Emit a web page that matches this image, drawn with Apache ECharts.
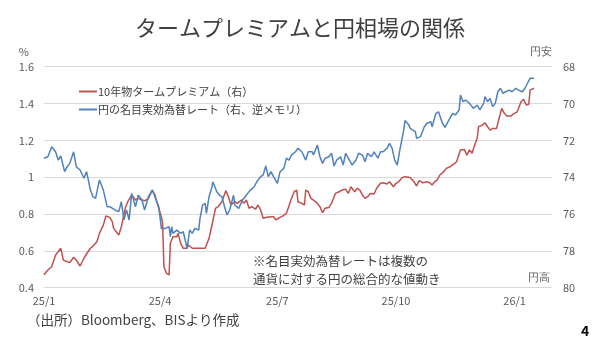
<!DOCTYPE html>
<html>
<head>
<meta charset="utf-8">
<script src="https://cdn.jsdelivr.net/npm/echarts@6/dist/echarts.min.js"></script>
<style>
html,body{margin:0;padding:0;background:#fff;}
#chart{width:600px;height:343px;}
</style>
</head>
<body>
<div id="chart"></div>
<script>
// ---- data ----
const startDate = '2025-01-01';
const endDate = '2026-01-30';
const tickDates = ['2025-01-01','2025-04-01','2025-07-01','2025-10-01','2026-01-01'];
const tickLabels = ['25/1','25/4','25/7','25/10','26/1'];

const premiumDates = ['2025-01-01','2025-01-04','2025-01-07','2025-01-10','2025-01-12','2025-01-14','2025-01-16','2025-01-19','2025-01-21','2025-01-24','2025-01-26','2025-01-29',
'2025-02-01','2025-02-03','2025-02-06','2025-02-08','2025-02-11','2025-02-13','2025-02-16','2025-02-18','2025-02-21','2025-02-23','2025-02-24','2025-02-26','2025-02-28',
'2025-03-02','2025-03-05','2025-03-07','2025-03-10','2025-03-13','2025-03-15','2025-03-18','2025-03-20','2025-03-23','2025-03-26','2025-03-28','2025-03-31',
'2025-04-02','2025-04-03','2025-04-04','2025-04-06','2025-04-08','2025-04-09','2025-04-11','2025-04-14','2025-04-15','2025-04-17','2025-04-19','2025-04-22','2025-04-23','2025-04-26','2025-04-30',
'2025-05-03','2025-05-06','2025-05-09','2025-05-11','2025-05-14','2025-05-16','2025-05-19','2025-05-22','2025-05-24','2025-05-26','2025-05-29','2025-05-31',
'2025-06-03','2025-06-05','2025-06-07','2025-06-09','2025-06-11','2025-06-14','2025-06-16','2025-06-18','2025-06-20','2025-06-23','2025-06-26','2025-06-28','2025-06-30',
'2025-07-03','2025-07-05','2025-07-08','2025-07-10','2025-07-11','2025-07-14','2025-07-16','2025-07-17','2025-07-20','2025-07-22','2025-07-23','2025-07-25','2025-07-27','2025-07-29',
'2025-08-01','2025-08-03','2025-08-05','2025-08-07','2025-08-10','2025-08-12','2025-08-15','2025-08-18','2025-08-20','2025-08-23','2025-08-25','2025-08-27','2025-08-30',
'2025-09-01','2025-09-03','2025-09-05','2025-09-07','2025-09-09','2025-09-11','2025-09-14','2025-09-16','2025-09-19','2025-09-21','2025-09-24','2025-09-26','2025-09-29',
'2025-10-01','2025-10-03','2025-10-06','2025-10-08','2025-10-12','2025-10-15','2025-10-17','2025-10-19','2025-10-22','2025-10-25','2025-10-27','2025-10-29','2025-10-31',
'2025-11-02','2025-11-04','2025-11-07','2025-11-09','2025-11-12','2025-11-15','2025-11-17','2025-11-20','2025-11-21','2025-11-23','2025-11-25','2025-11-27','2025-11-29',
'2025-12-01','2025-12-03','2025-12-04','2025-12-07','2025-12-09','2025-12-11','2025-12-13','2025-12-15','2025-12-18','2025-12-20','2025-12-22','2025-12-24','2025-12-26','2025-12-29','2025-12-31',
'2026-01-03','2026-01-06','2026-01-08','2026-01-10','2026-01-12','2026-01-13','2026-01-16'];
const premiumValues = [0.470,0.496,0.514,0.578,0.595,0.614,0.550,0.541,0.536,0.565,0.550,0.518,
0.560,0.583,0.614,0.626,0.650,0.695,0.740,0.789,0.782,0.758,0.722,0.704,0.686,
0.731,0.831,0.867,0.903,0.876,0.885,0.876,0.872,0.885,0.930,0.903,0.831,
0.785,0.750,0.514,0.478,0.469,0.641,0.677,0.677,0.695,0.641,0.614,0.614,0.632,0.614,0.614,
0.614,0.614,0.668,0.731,0.831,0.840,0.867,0.927,0.894,0.849,0.867,0.858,
0.876,0.858,0.876,0.831,0.840,0.826,0.849,0.822,0.777,0.782,0.785,0.785,0.768,
0.782,0.789,0.804,0.844,0.867,0.921,0.930,0.867,0.858,0.849,0.930,0.921,0.885,0.876,
0.858,0.840,0.807,0.831,0.836,0.858,0.912,0.921,0.930,0.934,0.912,0.948,0.921,
0.940,0.930,0.903,0.885,0.894,0.912,0.909,0.940,0.967,0.970,0.963,0.975,0.948,
0.967,0.975,0.999,1.003,0.999,0.975,0.952,0.981,0.970,0.975,0.970,0.958,0.975,
0.985,1.012,1.030,1.048,1.057,1.072,1.084,1.148,1.138,1.151,1.120,1.148,1.130,
1.175,1.211,1.274,1.283,1.296,1.274,1.256,1.265,1.265,1.320,1.374,1.347,1.332,1.332,1.343,
1.355,1.410,1.423,1.392,1.396,1.473,1.483];

const neerDates = ['2025-01-01','2025-01-04','2025-01-07','2025-01-10','2025-01-12','2025-01-14','2025-01-17','2025-01-19','2025-01-21','2025-01-24','2025-01-26','2025-01-29',
'2025-02-01','2025-02-03','2025-02-06','2025-02-08','2025-02-10','2025-02-13','2025-02-16','2025-02-19','2025-02-21','2025-02-25','2025-02-28',
'2025-03-02','2025-03-04','2025-03-06','2025-03-08','2025-03-10','2025-03-13','2025-03-15','2025-03-18','2025-03-20','2025-03-23','2025-03-26','2025-03-28','2025-03-31',
'2025-04-01','2025-04-02','2025-04-05','2025-04-08','2025-04-09','2025-04-10','2025-04-11','2025-04-14','2025-04-17','2025-04-19','2025-04-22','2025-04-24','2025-04-26','2025-04-28',
'2025-05-01','2025-05-02','2025-05-04','2025-05-06','2025-05-07','2025-05-09','2025-05-11','2025-05-12','2025-05-15','2025-05-17','2025-05-19','2025-05-21','2025-05-23','2025-05-25','2025-05-28','2025-05-29',
'2025-06-01','2025-06-04','2025-06-06','2025-06-08','2025-06-10','2025-06-13','2025-06-15','2025-06-18','2025-06-20','2025-06-22','2025-06-24','2025-06-26','2025-06-28',
'2025-07-01','2025-07-03','2025-07-06','2025-07-08','2025-07-10','2025-07-12','2025-07-15','2025-07-17','2025-07-20','2025-07-23','2025-07-25','2025-07-28','2025-07-29',
'2025-08-01','2025-08-03','2025-08-05','2025-08-07','2025-08-10','2025-08-12','2025-08-14','2025-08-16','2025-08-19','2025-08-21','2025-08-23','2025-08-25','2025-08-28','2025-08-31',
'2025-09-02','2025-09-05','2025-09-07','2025-09-09','2025-09-12','2025-09-14','2025-09-17','2025-09-19','2025-09-21','2025-09-24','2025-09-26','2025-09-28','2025-09-30',
'2025-10-02','2025-10-04','2025-10-07','2025-10-08','2025-10-11','2025-10-12','2025-10-16','2025-10-17','2025-10-20','2025-10-23','2025-10-25','2025-10-28','2025-10-29',
'2025-11-01','2025-11-03','2025-11-06','2025-11-08','2025-11-11','2025-11-14','2025-11-16','2025-11-19','2025-11-20','2025-11-22','2025-11-24','2025-11-27','2025-11-28','2025-11-30',
'2025-12-03','2025-12-05','2025-12-08','2025-12-09','2025-12-11','2025-12-13','2025-12-15','2025-12-17','2025-12-19','2025-12-21','2025-12-23','2025-12-25','2025-12-28','2025-12-30',
'2026-01-02','2026-01-04','2026-01-07','2026-01-09','2026-01-11','2026-01-13','2026-01-16'];
const neerValues = [72.97,72.89,72.35,72.62,73.07,72.85,73.70,73.43,73.25,72.62,73.43,73.61,
74.06,73.70,74.70,75.06,75.15,74.15,74.70,75.60,75.60,75.78,75.87,
75.33,76.32,75.78,76.32,74.88,75.60,74.97,75.24,75.78,75.06,74.70,75.06,75.60,
75.51,76.78,76.78,76.69,77.23,76.69,77.05,76.87,77.05,76.96,77.86,76.87,77.05,76.78,
76.87,76.23,75.51,75.42,75.96,75.06,74.60,74.25,74.79,74.97,75.06,75.60,76.05,75.78,74.97,75.51,
75.69,75.24,75.06,74.88,74.70,74.52,74.25,73.97,73.88,73.39,73.97,73.70,73.97,
74.33,73.72,73.52,72.97,73.07,72.80,72.62,72.43,72.62,73.07,72.62,72.62,72.80,
72.25,72.89,73.25,72.97,72.89,72.70,73.39,73.07,72.89,73.34,72.70,72.97,73.34,73.07,
72.70,72.80,73.16,72.70,72.89,72.62,72.97,72.62,72.62,72.43,72.16,72.43,73.07,
73.34,72.52,71.44,70.92,71.17,71.35,71.53,71.89,71.80,71.26,71.07,70.99,71.26,
70.53,70.45,71.07,71.29,70.90,70.53,70.62,70.35,69.54,69.90,69.81,69.99,69.90,70.26,
70.08,70.35,69.99,69.63,69.90,69.72,70.17,69.99,69.36,69.17,69.45,69.36,69.27,69.36,
69.17,69.27,69.36,69.17,68.90,68.63,68.63];

// ---- build ----
function iso(d){return d.toISOString().slice(0,10);}
const categories = [];
for (let t = new Date(startDate + 'T00:00:00Z'); iso(t) <= endDate; t = new Date(t.getTime() + 86400000)) {
  categories.push(iso(t));
}
function toSeries(dates, values){
  const idx = {}; categories.forEach((c,i)=>idx[c]=i);
  const arr = categories.map(()=>null);
  dates.forEach((d,i)=>{ arr[idx[d]] = values[i]; });
  return arr;
}

const FONT = '"Noto Sans CJK JP", "Noto Sans", sans-serif';
const chart = echarts.init(document.getElementById('chart'), null, {renderer:'canvas'});
chart.setOption({
  animation: false,
  textStyle: {fontFamily: FONT},
  title: {
    text: 'タームプレミアムと円相場の関係',
    left: 'center', top: 12,
    textStyle: {fontSize: 22, fontWeight: 'normal', color: '#404040', fontFamily: FONT}
  },
  legend: {
    orient: 'vertical', left: 74, top: 81, itemGap: 7,
    itemWidth: 18, itemHeight: 2, icon: 'rect',
    textStyle: {fontSize: 11, color: '#404040', fontFamily: FONT, padding: [0,0,0,-4]},
    data: ['10年物タームプレミアム（右）', '円の名目実効為替レート（右、逆メモリ）']
  },
  grid: {left: 44, right: 48, top: 66.7, bottom: 55.3},
  xAxis: {
    type: 'category', boundaryGap: false, data: categories,
    axisLine: {show: true, lineStyle: {color: '#D9D9D9'}},
    axisTick: {show: false},
    splitLine: {show: false},
    axisLabel: {
      interval: (i, v) => tickDates.includes(v),
      formatter: v => tickLabels[tickDates.indexOf(v)],
      color: '#595959', fontSize: 11, margin: 8, fontFamily: FONT
    }
  },
  yAxis: [
    {
      type: 'value', min: 0.4, max: 1.6, interval: 0.2,
      name: '%', nameLocation: 'end', nameGap: 9,
      nameTextStyle: {color: '#595959', fontSize: 11, align: 'right', padding: [0, 15, 0, 0]},
      axisLine: {show: false}, axisTick: {show: false},
      splitLine: {lineStyle: {color: '#D9D9D9', width: 1}},
      axisLabel: {color: '#595959', fontSize: 11, margin: 10, formatter: v => String(+v.toFixed(1))}
    },
    {
      type: 'value', min: 68, max: 80, interval: 2, inverse: true,
      axisLine: {show: false}, axisTick: {show: false},
      splitLine: {show: false},
      axisLabel: {color: '#595959', fontSize: 11, margin: 11, align: 'left'}
    }
  ],
  series: [
    {
      name: '10年物タームプレミアム（右）', type: 'line', yAxisIndex: 0,
      data: toSeries(premiumDates, premiumValues),
      connectNulls: true, showSymbol: false, symbol: 'none',
      lineStyle: {color: '#C0504D', width: 1.5}, itemStyle: {color: '#C0504D'}
    },
    {
      name: '円の名目実効為替レート（右、逆メモリ）', type: 'line', yAxisIndex: 1,
      data: toSeries(neerDates, neerValues),
      connectNulls: true, showSymbol: false, symbol: 'none',
      lineStyle: {color: '#4F81BD', width: 1.5}, itemStyle: {color: '#4F81BD'}
    }
  ],
  graphic: [
    {type: 'text', left: 530, top: 46, style: {text: '円安', fontSize: 11, fill: '#595959', font: '11px ' + FONT}},
    {type: 'text', left: 528, top: 272, style: {text: '円高', fontSize: 11, fill: '#595959', font: '11px ' + FONT}},
    {type: 'text', left: 253, top: 252, style: {text: '※名目実効為替レートは複数の\n通貨に対する円の総合的な値動き', font: '12.5px ' + FONT, lineHeight: 18, fill: '#404040'}},
    {type: 'text', left: 27, top: 313, style: {text: '（出所）Bloomberg、BISより作成', font: '13.5px ' + FONT, fill: '#404040'}},
    {type: 'text', left: 581, top: 324, style: {text: '4', font: 'bold 14px ' + FONT, fill: '#000'}}
  ]
});
</script>
</body>
</html>
